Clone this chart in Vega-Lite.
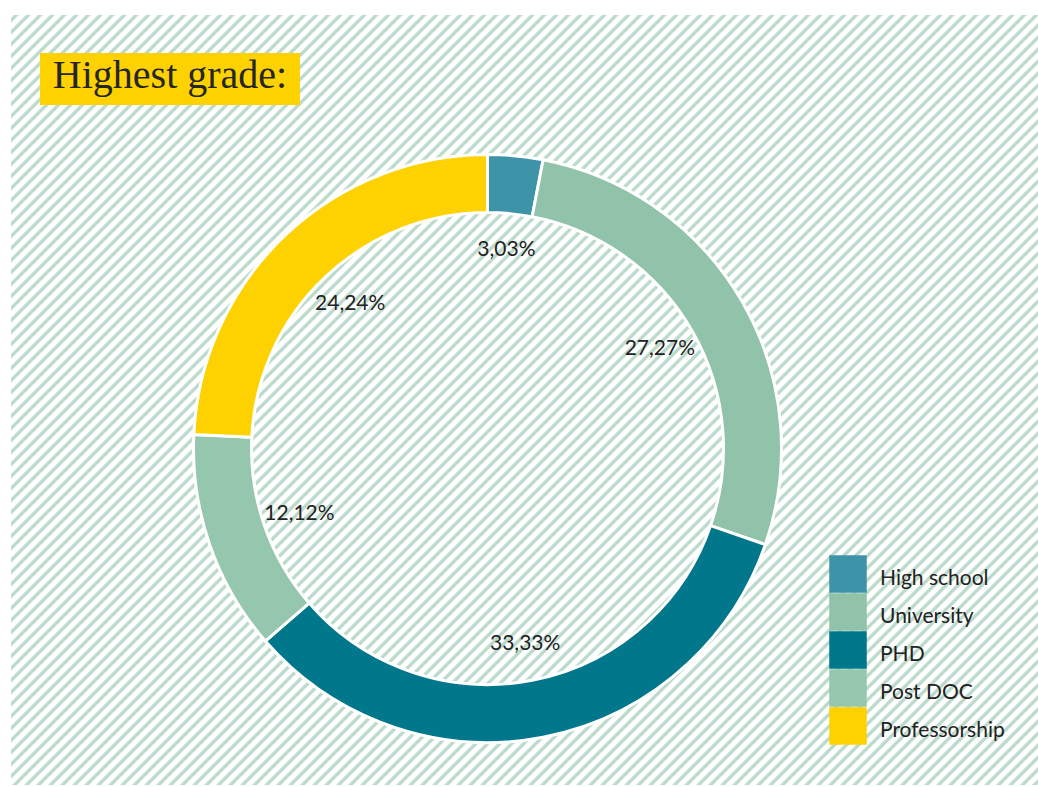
{
"$schema":"https://vega.github.io/schema/vega-lite/v6.json",
"width":1038,"height":787,
"autosize":{"type":"fit","contains":"padding"},
"padding":{"left":11,"top":15,"right":0,"bottom":2},
"background":"#ffffff",
"view":{"stroke":null,"fill":{"gradient":"linear","x1":0,"y1":0,"x2":1.49597,"y2":1.12161,"stops":[
{"offset":0,"color":"#fff"},
{"offset":0.001,"color":"#fff"},{"offset":0.0015,"color":"#bddbcc"},{"offset":0.003,"color":"#bddbcc"},{"offset":0.0035,"color":"#fff"},{"offset":0.006,"color":"#fff"},{"offset":0.0065,"color":"#bddbcc"},{"offset":0.008,"color":"#bddbcc"},{"offset":0.0085,"color":"#fff"},
{"offset":0.011,"color":"#fff"},{"offset":0.0115,"color":"#bddbcc"},{"offset":0.013,"color":"#bddbcc"},{"offset":0.0135,"color":"#fff"},{"offset":0.016,"color":"#fff"},{"offset":0.0165,"color":"#bddbcc"},{"offset":0.018,"color":"#bddbcc"},{"offset":0.0185,"color":"#fff"},
{"offset":0.021,"color":"#fff"},{"offset":0.0215,"color":"#bddbcc"},{"offset":0.023,"color":"#bddbcc"},{"offset":0.0235,"color":"#fff"},{"offset":0.026,"color":"#fff"},{"offset":0.0265,"color":"#bddbcc"},{"offset":0.028,"color":"#bddbcc"},{"offset":0.0285,"color":"#fff"},
{"offset":0.031,"color":"#fff"},{"offset":0.0315,"color":"#bddbcc"},{"offset":0.033,"color":"#bddbcc"},{"offset":0.0335,"color":"#fff"},{"offset":0.036,"color":"#fff"},{"offset":0.0365,"color":"#bddbcc"},{"offset":0.038,"color":"#bddbcc"},{"offset":0.0385,"color":"#fff"},
{"offset":0.041,"color":"#fff"},{"offset":0.0415,"color":"#bddbcc"},{"offset":0.043,"color":"#bddbcc"},{"offset":0.0435,"color":"#fff"},{"offset":0.046,"color":"#fff"},{"offset":0.0465,"color":"#bddbcc"},{"offset":0.048,"color":"#bddbcc"},{"offset":0.0485,"color":"#fff"},
{"offset":0.051,"color":"#fff"},{"offset":0.0515,"color":"#bddbcc"},{"offset":0.053,"color":"#bddbcc"},{"offset":0.0535,"color":"#fff"},{"offset":0.056,"color":"#fff"},{"offset":0.0565,"color":"#bddbcc"},{"offset":0.058,"color":"#bddbcc"},{"offset":0.0585,"color":"#fff"},
{"offset":0.061,"color":"#fff"},{"offset":0.0615,"color":"#bddbcc"},{"offset":0.063,"color":"#bddbcc"},{"offset":0.0635,"color":"#fff"},{"offset":0.066,"color":"#fff"},{"offset":0.0665,"color":"#bddbcc"},{"offset":0.068,"color":"#bddbcc"},{"offset":0.0685,"color":"#fff"},
{"offset":0.071,"color":"#fff"},{"offset":0.0715,"color":"#bddbcc"},{"offset":0.073,"color":"#bddbcc"},{"offset":0.0735,"color":"#fff"},{"offset":0.076,"color":"#fff"},{"offset":0.0765,"color":"#bddbcc"},{"offset":0.078,"color":"#bddbcc"},{"offset":0.0785,"color":"#fff"},
{"offset":0.081,"color":"#fff"},{"offset":0.0815,"color":"#bddbcc"},{"offset":0.083,"color":"#bddbcc"},{"offset":0.0835,"color":"#fff"},{"offset":0.086,"color":"#fff"},{"offset":0.0865,"color":"#bddbcc"},{"offset":0.088,"color":"#bddbcc"},{"offset":0.0885,"color":"#fff"},
{"offset":0.091,"color":"#fff"},{"offset":0.0915,"color":"#bddbcc"},{"offset":0.093,"color":"#bddbcc"},{"offset":0.0935,"color":"#fff"},{"offset":0.096,"color":"#fff"},{"offset":0.0965,"color":"#bddbcc"},{"offset":0.098,"color":"#bddbcc"},{"offset":0.0985,"color":"#fff"},
{"offset":0.101,"color":"#fff"},{"offset":0.1015,"color":"#bddbcc"},{"offset":0.103,"color":"#bddbcc"},{"offset":0.1035,"color":"#fff"},{"offset":0.106,"color":"#fff"},{"offset":0.1065,"color":"#bddbcc"},{"offset":0.108,"color":"#bddbcc"},{"offset":0.1085,"color":"#fff"},
{"offset":0.111,"color":"#fff"},{"offset":0.1115,"color":"#bddbcc"},{"offset":0.113,"color":"#bddbcc"},{"offset":0.1135,"color":"#fff"},{"offset":0.116,"color":"#fff"},{"offset":0.1165,"color":"#bddbcc"},{"offset":0.118,"color":"#bddbcc"},{"offset":0.1185,"color":"#fff"},
{"offset":0.121,"color":"#fff"},{"offset":0.1215,"color":"#bddbcc"},{"offset":0.123,"color":"#bddbcc"},{"offset":0.1235,"color":"#fff"},{"offset":0.126,"color":"#fff"},{"offset":0.1265,"color":"#bddbcc"},{"offset":0.128,"color":"#bddbcc"},{"offset":0.1285,"color":"#fff"},
{"offset":0.131,"color":"#fff"},{"offset":0.1315,"color":"#bddbcc"},{"offset":0.133,"color":"#bddbcc"},{"offset":0.1335,"color":"#fff"},{"offset":0.136,"color":"#fff"},{"offset":0.1365,"color":"#bddbcc"},{"offset":0.138,"color":"#bddbcc"},{"offset":0.1385,"color":"#fff"},
{"offset":0.141,"color":"#fff"},{"offset":0.1415,"color":"#bddbcc"},{"offset":0.143,"color":"#bddbcc"},{"offset":0.1435,"color":"#fff"},{"offset":0.146,"color":"#fff"},{"offset":0.1465,"color":"#bddbcc"},{"offset":0.148,"color":"#bddbcc"},{"offset":0.1485,"color":"#fff"},
{"offset":0.151,"color":"#fff"},{"offset":0.1515,"color":"#bddbcc"},{"offset":0.153,"color":"#bddbcc"},{"offset":0.1535,"color":"#fff"},{"offset":0.156,"color":"#fff"},{"offset":0.1565,"color":"#bddbcc"},{"offset":0.158,"color":"#bddbcc"},{"offset":0.1585,"color":"#fff"},
{"offset":0.161,"color":"#fff"},{"offset":0.1615,"color":"#bddbcc"},{"offset":0.163,"color":"#bddbcc"},{"offset":0.1635,"color":"#fff"},{"offset":0.166,"color":"#fff"},{"offset":0.1665,"color":"#bddbcc"},{"offset":0.168,"color":"#bddbcc"},{"offset":0.1685,"color":"#fff"},
{"offset":0.171,"color":"#fff"},{"offset":0.1715,"color":"#bddbcc"},{"offset":0.173,"color":"#bddbcc"},{"offset":0.1735,"color":"#fff"},{"offset":0.176,"color":"#fff"},{"offset":0.1765,"color":"#bddbcc"},{"offset":0.178,"color":"#bddbcc"},{"offset":0.1785,"color":"#fff"},
{"offset":0.181,"color":"#fff"},{"offset":0.1815,"color":"#bddbcc"},{"offset":0.183,"color":"#bddbcc"},{"offset":0.1835,"color":"#fff"},{"offset":0.186,"color":"#fff"},{"offset":0.1865,"color":"#bddbcc"},{"offset":0.188,"color":"#bddbcc"},{"offset":0.1885,"color":"#fff"},
{"offset":0.191,"color":"#fff"},{"offset":0.1915,"color":"#bddbcc"},{"offset":0.193,"color":"#bddbcc"},{"offset":0.1935,"color":"#fff"},{"offset":0.196,"color":"#fff"},{"offset":0.1965,"color":"#bddbcc"},{"offset":0.198,"color":"#bddbcc"},{"offset":0.1985,"color":"#fff"},
{"offset":0.201,"color":"#fff"},{"offset":0.2015,"color":"#bddbcc"},{"offset":0.203,"color":"#bddbcc"},{"offset":0.2035,"color":"#fff"},{"offset":0.206,"color":"#fff"},{"offset":0.2065,"color":"#bddbcc"},{"offset":0.208,"color":"#bddbcc"},{"offset":0.2085,"color":"#fff"},
{"offset":0.211,"color":"#fff"},{"offset":0.2115,"color":"#bddbcc"},{"offset":0.213,"color":"#bddbcc"},{"offset":0.2135,"color":"#fff"},{"offset":0.216,"color":"#fff"},{"offset":0.2165,"color":"#bddbcc"},{"offset":0.218,"color":"#bddbcc"},{"offset":0.2185,"color":"#fff"},
{"offset":0.221,"color":"#fff"},{"offset":0.2215,"color":"#bddbcc"},{"offset":0.223,"color":"#bddbcc"},{"offset":0.2235,"color":"#fff"},{"offset":0.226,"color":"#fff"},{"offset":0.2265,"color":"#bddbcc"},{"offset":0.228,"color":"#bddbcc"},{"offset":0.2285,"color":"#fff"},
{"offset":0.231,"color":"#fff"},{"offset":0.2315,"color":"#bddbcc"},{"offset":0.233,"color":"#bddbcc"},{"offset":0.2335,"color":"#fff"},{"offset":0.236,"color":"#fff"},{"offset":0.2365,"color":"#bddbcc"},{"offset":0.238,"color":"#bddbcc"},{"offset":0.2385,"color":"#fff"},
{"offset":0.241,"color":"#fff"},{"offset":0.2415,"color":"#bddbcc"},{"offset":0.243,"color":"#bddbcc"},{"offset":0.2435,"color":"#fff"},{"offset":0.246,"color":"#fff"},{"offset":0.2465,"color":"#bddbcc"},{"offset":0.248,"color":"#bddbcc"},{"offset":0.2485,"color":"#fff"},
{"offset":0.251,"color":"#fff"},{"offset":0.2515,"color":"#bddbcc"},{"offset":0.253,"color":"#bddbcc"},{"offset":0.2535,"color":"#fff"},{"offset":0.256,"color":"#fff"},{"offset":0.2565,"color":"#bddbcc"},{"offset":0.258,"color":"#bddbcc"},{"offset":0.2585,"color":"#fff"},
{"offset":0.261,"color":"#fff"},{"offset":0.2615,"color":"#bddbcc"},{"offset":0.263,"color":"#bddbcc"},{"offset":0.2635,"color":"#fff"},{"offset":0.266,"color":"#fff"},{"offset":0.2665,"color":"#bddbcc"},{"offset":0.268,"color":"#bddbcc"},{"offset":0.2685,"color":"#fff"},
{"offset":0.271,"color":"#fff"},{"offset":0.2715,"color":"#bddbcc"},{"offset":0.273,"color":"#bddbcc"},{"offset":0.2735,"color":"#fff"},{"offset":0.276,"color":"#fff"},{"offset":0.2765,"color":"#bddbcc"},{"offset":0.278,"color":"#bddbcc"},{"offset":0.2785,"color":"#fff"},
{"offset":0.281,"color":"#fff"},{"offset":0.2815,"color":"#bddbcc"},{"offset":0.283,"color":"#bddbcc"},{"offset":0.2835,"color":"#fff"},{"offset":0.286,"color":"#fff"},{"offset":0.2865,"color":"#bddbcc"},{"offset":0.288,"color":"#bddbcc"},{"offset":0.2885,"color":"#fff"},
{"offset":0.291,"color":"#fff"},{"offset":0.2915,"color":"#bddbcc"},{"offset":0.293,"color":"#bddbcc"},{"offset":0.2935,"color":"#fff"},{"offset":0.296,"color":"#fff"},{"offset":0.2965,"color":"#bddbcc"},{"offset":0.298,"color":"#bddbcc"},{"offset":0.2985,"color":"#fff"},
{"offset":0.301,"color":"#fff"},{"offset":0.3015,"color":"#bddbcc"},{"offset":0.303,"color":"#bddbcc"},{"offset":0.3035,"color":"#fff"},{"offset":0.306,"color":"#fff"},{"offset":0.3065,"color":"#bddbcc"},{"offset":0.308,"color":"#bddbcc"},{"offset":0.3085,"color":"#fff"},
{"offset":0.311,"color":"#fff"},{"offset":0.3115,"color":"#bddbcc"},{"offset":0.313,"color":"#bddbcc"},{"offset":0.3135,"color":"#fff"},{"offset":0.316,"color":"#fff"},{"offset":0.3165,"color":"#bddbcc"},{"offset":0.318,"color":"#bddbcc"},{"offset":0.3185,"color":"#fff"},
{"offset":0.321,"color":"#fff"},{"offset":0.3215,"color":"#bddbcc"},{"offset":0.323,"color":"#bddbcc"},{"offset":0.3235,"color":"#fff"},{"offset":0.326,"color":"#fff"},{"offset":0.3265,"color":"#bddbcc"},{"offset":0.328,"color":"#bddbcc"},{"offset":0.3285,"color":"#fff"},
{"offset":0.331,"color":"#fff"},{"offset":0.3315,"color":"#bddbcc"},{"offset":0.333,"color":"#bddbcc"},{"offset":0.3335,"color":"#fff"},{"offset":0.336,"color":"#fff"},{"offset":0.3365,"color":"#bddbcc"},{"offset":0.338,"color":"#bddbcc"},{"offset":0.3385,"color":"#fff"},
{"offset":0.341,"color":"#fff"},{"offset":0.3415,"color":"#bddbcc"},{"offset":0.343,"color":"#bddbcc"},{"offset":0.3435,"color":"#fff"},{"offset":0.346,"color":"#fff"},{"offset":0.3465,"color":"#bddbcc"},{"offset":0.348,"color":"#bddbcc"},{"offset":0.3485,"color":"#fff"},
{"offset":0.351,"color":"#fff"},{"offset":0.3515,"color":"#bddbcc"},{"offset":0.353,"color":"#bddbcc"},{"offset":0.3535,"color":"#fff"},{"offset":0.356,"color":"#fff"},{"offset":0.3565,"color":"#bddbcc"},{"offset":0.358,"color":"#bddbcc"},{"offset":0.3585,"color":"#fff"},
{"offset":0.361,"color":"#fff"},{"offset":0.3615,"color":"#bddbcc"},{"offset":0.363,"color":"#bddbcc"},{"offset":0.3635,"color":"#fff"},{"offset":0.366,"color":"#fff"},{"offset":0.3665,"color":"#bddbcc"},{"offset":0.368,"color":"#bddbcc"},{"offset":0.3685,"color":"#fff"},
{"offset":0.371,"color":"#fff"},{"offset":0.3715,"color":"#bddbcc"},{"offset":0.373,"color":"#bddbcc"},{"offset":0.3735,"color":"#fff"},{"offset":0.376,"color":"#fff"},{"offset":0.3765,"color":"#bddbcc"},{"offset":0.378,"color":"#bddbcc"},{"offset":0.3785,"color":"#fff"},
{"offset":0.381,"color":"#fff"},{"offset":0.3815,"color":"#bddbcc"},{"offset":0.383,"color":"#bddbcc"},{"offset":0.3835,"color":"#fff"},{"offset":0.386,"color":"#fff"},{"offset":0.3865,"color":"#bddbcc"},{"offset":0.388,"color":"#bddbcc"},{"offset":0.3885,"color":"#fff"},
{"offset":0.391,"color":"#fff"},{"offset":0.3915,"color":"#bddbcc"},{"offset":0.393,"color":"#bddbcc"},{"offset":0.3935,"color":"#fff"},{"offset":0.396,"color":"#fff"},{"offset":0.3965,"color":"#bddbcc"},{"offset":0.398,"color":"#bddbcc"},{"offset":0.3985,"color":"#fff"},
{"offset":0.401,"color":"#fff"},{"offset":0.4015,"color":"#bddbcc"},{"offset":0.403,"color":"#bddbcc"},{"offset":0.4035,"color":"#fff"},{"offset":0.406,"color":"#fff"},{"offset":0.4065,"color":"#bddbcc"},{"offset":0.408,"color":"#bddbcc"},{"offset":0.4085,"color":"#fff"},
{"offset":0.411,"color":"#fff"},{"offset":0.4115,"color":"#bddbcc"},{"offset":0.413,"color":"#bddbcc"},{"offset":0.4135,"color":"#fff"},{"offset":0.416,"color":"#fff"},{"offset":0.4165,"color":"#bddbcc"},{"offset":0.418,"color":"#bddbcc"},{"offset":0.4185,"color":"#fff"},
{"offset":0.421,"color":"#fff"},{"offset":0.4215,"color":"#bddbcc"},{"offset":0.423,"color":"#bddbcc"},{"offset":0.4235,"color":"#fff"},{"offset":0.426,"color":"#fff"},{"offset":0.4265,"color":"#bddbcc"},{"offset":0.428,"color":"#bddbcc"},{"offset":0.4285,"color":"#fff"},
{"offset":0.431,"color":"#fff"},{"offset":0.4315,"color":"#bddbcc"},{"offset":0.433,"color":"#bddbcc"},{"offset":0.4335,"color":"#fff"},{"offset":0.436,"color":"#fff"},{"offset":0.4365,"color":"#bddbcc"},{"offset":0.438,"color":"#bddbcc"},{"offset":0.4385,"color":"#fff"},
{"offset":0.441,"color":"#fff"},{"offset":0.4415,"color":"#bddbcc"},{"offset":0.443,"color":"#bddbcc"},{"offset":0.4435,"color":"#fff"},{"offset":0.446,"color":"#fff"},{"offset":0.4465,"color":"#bddbcc"},{"offset":0.448,"color":"#bddbcc"},{"offset":0.4485,"color":"#fff"},
{"offset":0.451,"color":"#fff"},{"offset":0.4515,"color":"#bddbcc"},{"offset":0.453,"color":"#bddbcc"},{"offset":0.4535,"color":"#fff"},{"offset":0.456,"color":"#fff"},{"offset":0.4565,"color":"#bddbcc"},{"offset":0.458,"color":"#bddbcc"},{"offset":0.4585,"color":"#fff"},
{"offset":0.461,"color":"#fff"},{"offset":0.4615,"color":"#bddbcc"},{"offset":0.463,"color":"#bddbcc"},{"offset":0.4635,"color":"#fff"},{"offset":0.466,"color":"#fff"},{"offset":0.4665,"color":"#bddbcc"},{"offset":0.468,"color":"#bddbcc"},{"offset":0.4685,"color":"#fff"},
{"offset":0.471,"color":"#fff"},{"offset":0.4715,"color":"#bddbcc"},{"offset":0.473,"color":"#bddbcc"},{"offset":0.4735,"color":"#fff"},{"offset":0.476,"color":"#fff"},{"offset":0.4765,"color":"#bddbcc"},{"offset":0.478,"color":"#bddbcc"},{"offset":0.4785,"color":"#fff"},
{"offset":0.481,"color":"#fff"},{"offset":0.4815,"color":"#bddbcc"},{"offset":0.483,"color":"#bddbcc"},{"offset":0.4835,"color":"#fff"},{"offset":0.486,"color":"#fff"},{"offset":0.4865,"color":"#bddbcc"},{"offset":0.488,"color":"#bddbcc"},{"offset":0.4885,"color":"#fff"},
{"offset":0.491,"color":"#fff"},{"offset":0.4915,"color":"#bddbcc"},{"offset":0.493,"color":"#bddbcc"},{"offset":0.4935,"color":"#fff"},{"offset":0.496,"color":"#fff"},{"offset":0.4965,"color":"#bddbcc"},{"offset":0.498,"color":"#bddbcc"},{"offset":0.4985,"color":"#fff"},
{"offset":0.501,"color":"#fff"},{"offset":0.5015,"color":"#bddbcc"},{"offset":0.503,"color":"#bddbcc"},{"offset":0.5035,"color":"#fff"},{"offset":0.506,"color":"#fff"},{"offset":0.5065,"color":"#bddbcc"},{"offset":0.508,"color":"#bddbcc"},{"offset":0.5085,"color":"#fff"},
{"offset":0.511,"color":"#fff"},{"offset":0.5115,"color":"#bddbcc"},{"offset":0.513,"color":"#bddbcc"},{"offset":0.5135,"color":"#fff"},{"offset":0.516,"color":"#fff"},{"offset":0.5165,"color":"#bddbcc"},{"offset":0.518,"color":"#bddbcc"},{"offset":0.5185,"color":"#fff"},
{"offset":0.521,"color":"#fff"},{"offset":0.5215,"color":"#bddbcc"},{"offset":0.523,"color":"#bddbcc"},{"offset":0.5235,"color":"#fff"},{"offset":0.526,"color":"#fff"},{"offset":0.5265,"color":"#bddbcc"},{"offset":0.528,"color":"#bddbcc"},{"offset":0.5285,"color":"#fff"},
{"offset":0.531,"color":"#fff"},{"offset":0.5315,"color":"#bddbcc"},{"offset":0.533,"color":"#bddbcc"},{"offset":0.5335,"color":"#fff"},{"offset":0.536,"color":"#fff"},{"offset":0.5365,"color":"#bddbcc"},{"offset":0.538,"color":"#bddbcc"},{"offset":0.5385,"color":"#fff"},
{"offset":0.541,"color":"#fff"},{"offset":0.5415,"color":"#bddbcc"},{"offset":0.543,"color":"#bddbcc"},{"offset":0.5435,"color":"#fff"},{"offset":0.546,"color":"#fff"},{"offset":0.5465,"color":"#bddbcc"},{"offset":0.548,"color":"#bddbcc"},{"offset":0.5485,"color":"#fff"},
{"offset":0.551,"color":"#fff"},{"offset":0.5515,"color":"#bddbcc"},{"offset":0.553,"color":"#bddbcc"},{"offset":0.5535,"color":"#fff"},{"offset":0.556,"color":"#fff"},{"offset":0.5565,"color":"#bddbcc"},{"offset":0.558,"color":"#bddbcc"},{"offset":0.5585,"color":"#fff"},
{"offset":0.561,"color":"#fff"},{"offset":0.5615,"color":"#bddbcc"},{"offset":0.563,"color":"#bddbcc"},{"offset":0.5635,"color":"#fff"},{"offset":0.566,"color":"#fff"},{"offset":0.5665,"color":"#bddbcc"},{"offset":0.568,"color":"#bddbcc"},{"offset":0.5685,"color":"#fff"},
{"offset":0.571,"color":"#fff"},{"offset":0.5715,"color":"#bddbcc"},{"offset":0.573,"color":"#bddbcc"},{"offset":0.5735,"color":"#fff"},{"offset":0.576,"color":"#fff"},{"offset":0.5765,"color":"#bddbcc"},{"offset":0.578,"color":"#bddbcc"},{"offset":0.5785,"color":"#fff"},
{"offset":0.581,"color":"#fff"},{"offset":0.5815,"color":"#bddbcc"},{"offset":0.583,"color":"#bddbcc"},{"offset":0.5835,"color":"#fff"},{"offset":0.586,"color":"#fff"},{"offset":0.5865,"color":"#bddbcc"},{"offset":0.588,"color":"#bddbcc"},{"offset":0.5885,"color":"#fff"},
{"offset":0.591,"color":"#fff"},{"offset":0.5915,"color":"#bddbcc"},{"offset":0.593,"color":"#bddbcc"},{"offset":0.5935,"color":"#fff"},{"offset":0.596,"color":"#fff"},{"offset":0.5965,"color":"#bddbcc"},{"offset":0.598,"color":"#bddbcc"},{"offset":0.5985,"color":"#fff"},
{"offset":0.601,"color":"#fff"},{"offset":0.6015,"color":"#bddbcc"},{"offset":0.603,"color":"#bddbcc"},{"offset":0.6035,"color":"#fff"},{"offset":0.606,"color":"#fff"},{"offset":0.6065,"color":"#bddbcc"},{"offset":0.608,"color":"#bddbcc"},{"offset":0.6085,"color":"#fff"},
{"offset":0.611,"color":"#fff"},{"offset":0.6115,"color":"#bddbcc"},{"offset":0.613,"color":"#bddbcc"},{"offset":0.6135,"color":"#fff"},{"offset":0.616,"color":"#fff"},{"offset":0.6165,"color":"#bddbcc"},{"offset":0.618,"color":"#bddbcc"},{"offset":0.6185,"color":"#fff"},
{"offset":0.621,"color":"#fff"},{"offset":0.6215,"color":"#bddbcc"},{"offset":0.623,"color":"#bddbcc"},{"offset":0.6235,"color":"#fff"},{"offset":0.626,"color":"#fff"},{"offset":0.6265,"color":"#bddbcc"},{"offset":0.628,"color":"#bddbcc"},{"offset":0.6285,"color":"#fff"},
{"offset":0.631,"color":"#fff"},{"offset":0.6315,"color":"#bddbcc"},{"offset":0.633,"color":"#bddbcc"},{"offset":0.6335,"color":"#fff"},{"offset":0.636,"color":"#fff"},{"offset":0.6365,"color":"#bddbcc"},{"offset":0.638,"color":"#bddbcc"},{"offset":0.6385,"color":"#fff"},
{"offset":0.641,"color":"#fff"},{"offset":0.6415,"color":"#bddbcc"},{"offset":0.643,"color":"#bddbcc"},{"offset":0.6435,"color":"#fff"},{"offset":0.646,"color":"#fff"},{"offset":0.6465,"color":"#bddbcc"},{"offset":0.648,"color":"#bddbcc"},{"offset":0.6485,"color":"#fff"},
{"offset":0.651,"color":"#fff"},{"offset":0.6515,"color":"#bddbcc"},{"offset":0.653,"color":"#bddbcc"},{"offset":0.6535,"color":"#fff"},{"offset":0.656,"color":"#fff"},{"offset":0.6565,"color":"#bddbcc"},{"offset":0.658,"color":"#bddbcc"},{"offset":0.6585,"color":"#fff"},
{"offset":0.661,"color":"#fff"},{"offset":0.6615,"color":"#bddbcc"},{"offset":0.663,"color":"#bddbcc"},{"offset":0.6635,"color":"#fff"},{"offset":0.666,"color":"#fff"},{"offset":0.6665,"color":"#bddbcc"},{"offset":0.668,"color":"#bddbcc"},{"offset":0.6685,"color":"#fff"},
{"offset":0.671,"color":"#fff"},{"offset":0.6715,"color":"#bddbcc"},{"offset":0.673,"color":"#bddbcc"},{"offset":0.6735,"color":"#fff"},{"offset":0.676,"color":"#fff"},{"offset":0.6765,"color":"#bddbcc"},{"offset":0.678,"color":"#bddbcc"},{"offset":0.6785,"color":"#fff"},
{"offset":0.681,"color":"#fff"},{"offset":0.6815,"color":"#bddbcc"},{"offset":0.683,"color":"#bddbcc"},{"offset":0.6835,"color":"#fff"},{"offset":0.686,"color":"#fff"},{"offset":0.6865,"color":"#bddbcc"},{"offset":0.688,"color":"#bddbcc"},{"offset":0.6885,"color":"#fff"},
{"offset":0.691,"color":"#fff"},{"offset":0.6915,"color":"#bddbcc"},{"offset":0.693,"color":"#bddbcc"},{"offset":0.6935,"color":"#fff"},{"offset":0.696,"color":"#fff"},{"offset":0.6965,"color":"#bddbcc"},{"offset":0.698,"color":"#bddbcc"},{"offset":0.6985,"color":"#fff"},
{"offset":0.701,"color":"#fff"},{"offset":0.7015,"color":"#bddbcc"},{"offset":0.703,"color":"#bddbcc"},{"offset":0.7035,"color":"#fff"},{"offset":0.706,"color":"#fff"},{"offset":0.7065,"color":"#bddbcc"},{"offset":0.708,"color":"#bddbcc"},{"offset":0.7085,"color":"#fff"},
{"offset":0.711,"color":"#fff"},{"offset":0.7115,"color":"#bddbcc"},{"offset":0.713,"color":"#bddbcc"},{"offset":0.7135,"color":"#fff"},{"offset":0.716,"color":"#fff"},{"offset":0.7165,"color":"#bddbcc"},{"offset":0.718,"color":"#bddbcc"},{"offset":0.7185,"color":"#fff"},
{"offset":0.721,"color":"#fff"},{"offset":0.7215,"color":"#bddbcc"},{"offset":0.723,"color":"#bddbcc"},{"offset":0.7235,"color":"#fff"},{"offset":0.726,"color":"#fff"},{"offset":0.7265,"color":"#bddbcc"},{"offset":0.728,"color":"#bddbcc"},{"offset":0.7285,"color":"#fff"},
{"offset":0.731,"color":"#fff"},{"offset":0.7315,"color":"#bddbcc"},{"offset":0.733,"color":"#bddbcc"},{"offset":0.7335,"color":"#fff"},{"offset":0.736,"color":"#fff"},{"offset":0.7365,"color":"#bddbcc"},{"offset":0.738,"color":"#bddbcc"},{"offset":0.7385,"color":"#fff"},
{"offset":0.741,"color":"#fff"},{"offset":0.7415,"color":"#bddbcc"},{"offset":0.743,"color":"#bddbcc"},{"offset":0.7435,"color":"#fff"},{"offset":0.746,"color":"#fff"},{"offset":0.7465,"color":"#bddbcc"},{"offset":0.748,"color":"#bddbcc"},{"offset":0.7485,"color":"#fff"},
{"offset":1,"color":"#fff"}
]}},
"config":{"locale":{"number":{"decimal":",","thousands":".","grouping":[3],"currency":["","\u00a0€"]}},"style":{"guide-label":{"dy":5}}},
"data":{"values":[
{"seq":1,"grade":"High school","share":0.0303},
{"seq":2,"grade":"University","share":0.2727},
{"seq":3,"grade":"PHD","share":0.3333},
{"seq":4,"grade":"Post DOC","share":0.1212},
{"seq":5,"grade":"Professorship","share":0.2424}
]},
"layer":[
{"mark":{"type":"arc","outerRadius":294,"innerRadius":236,"stroke":"#ffffff","strokeWidth":3,"xOffset":-37,"yOffset":48.5},
"encoding":{
"theta":{"field":"share","type":"quantitative","stack":true},
"order":{"field":"seq","type":"quantitative","sort":"ascending"},
"color":{"field":"grade","type":"nominal","sort":["High school","University","PHD","Post DOC","Professorship"],
"scale":{"domain":["High school","University","PHD","Post DOC","Professorship"],"range":["#3d93a7","#90c3a9","#00778b","#95c6ae","#fdd200"]},
"legend":{"orient":"none","legendX":818,"legendY":540,"title":null,"symbolType":"square","symbolSize":1406,"symbolStrokeWidth":0,"symbolOpacity":1,"rowPadding":0,"labelOffset":13,"labelFont":"Lato","labelFontSize":21,"labelColor":"#222222","padding":0,
"encode":{"symbols":{"fill":{"value":{"expr":"datum.value === 'Post DOC' ? '#6bab8f' : scale('color', datum.value)"}}}}}}
}},
{"mark":{"type":"text","radius":199,"xOffset":-37,"yOffset":48.5,"font":"Lato","fontSize":21,"fill":"#222222"},
"encoding":{
"theta":{"field":"share","type":"quantitative","stack":true},
"order":{"field":"seq","type":"quantitative","sort":"ascending"},
"text":{"field":"share","type":"quantitative","format":".2%"}
}},
{"mark":{"type":"point","opacity":0},
"encoding":{"shape":{"datum":"Highest grade:","type":"nominal",
"legend":{"orient":"none","legendX":29,"legendY":38,"title":"Highest grade:","titleFont":"Liberation Serif","titleFontSize":40,"titleFontWeight":"normal","titleColor":"#262626","titlePadding":0,"titleAnchor":"middle","titleLimit":0,"fillColor":"#fdd200","padding":3,"cornerRadius":0,"symbolSize":0,"symbolOpacity":0,"symbolStrokeWidth":0,"labelExpr":"''","labelFontSize":1,"labelOffset":253,"rowPadding":0}}}}
]
}
